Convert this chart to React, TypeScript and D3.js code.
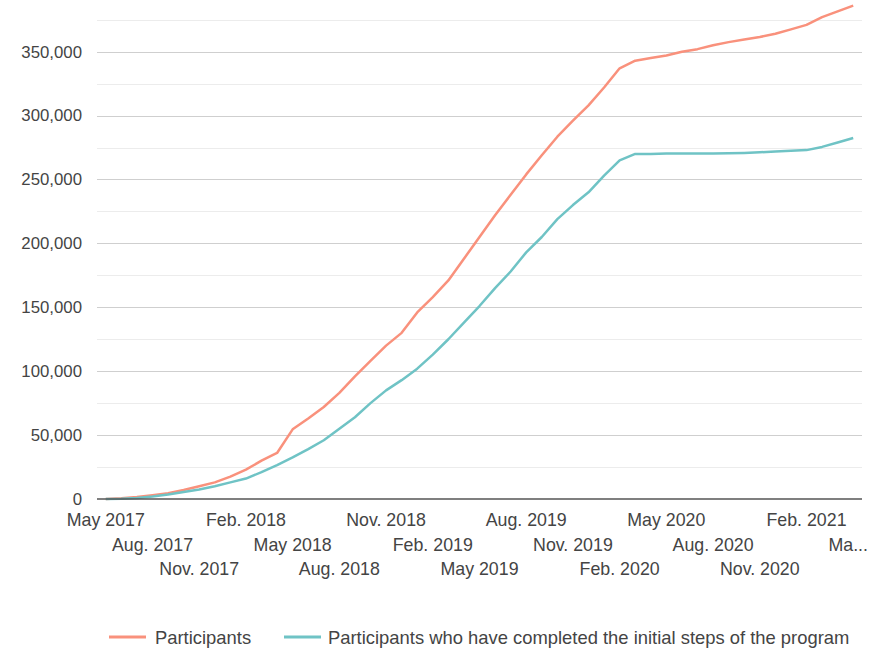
import React, { useEffect, useRef } from "react";
import * as d3 from "d3";

// months May 2017 .. May 2021
const months = [
  "May 2017", "Jun. 2017", "Jul. 2017", "Aug. 2017", "Sep. 2017", "Oct. 2017", "Nov. 2017", "Dec. 2017",
  "Jan. 2018", "Feb. 2018", "Mar. 2018", "Apr. 2018", "May 2018", "Jun. 2018", "Jul. 2018", "Aug. 2018",
  "Sep. 2018", "Oct. 2018", "Nov. 2018", "Dec. 2018", "Jan. 2019", "Feb. 2019", "Mar. 2019", "Apr. 2019",
  "May 2019", "Jun. 2019", "Jul. 2019", "Aug. 2019", "Sep. 2019", "Oct. 2019", "Nov. 2019", "Dec. 2019",
  "Jan. 2020", "Feb. 2020", "Mar. 2020", "Apr. 2020", "May 2020", "Jun. 2020", "Jul. 2020", "Aug. 2020",
  "Sep. 2020", "Oct. 2020", "Nov. 2020", "Dec. 2020", "Jan. 2021", "Feb. 2021", "Mar. 2021", "Apr. 2021",
  "May 2021",
];

const participants = [
  0, 500, 1500, 3000, 4500, 7000, 10000, 13000,
  17500, 23000, 30000, 36000, 54500, 63000, 72000, 83000,
  96000, 108000, 120000, 130000, 146000, 158000, 171000, 188000,
  205000, 222000, 238000, 254000, 269000, 283500, 296000, 308000,
  322000, 337000, 343000, 345000, 347000, 350000, 352000, 355000,
  357500, 359500, 361500, 364000, 367500, 371000, 377000, 381500,
  386000,
];

const completed = [
  0, 200, 800, 2000, 3500, 5500, 7500, 10000,
  13000, 16000, 21000, 26500, 32500, 39000, 46000, 55000,
  64000, 75000, 85000, 93000, 102000, 113000, 125000, 138000,
  151000, 165000, 178000, 193000, 205000, 219000, 230000, 240000,
  253000, 265000, 270000, 270000, 270300, 270400, 270400, 270400,
  270500, 270800, 271300, 272000, 272500, 273000, 275500, 279000,
  282500,
];

const yTicks = [0, 50000, 100000, 150000, 200000, 250000, 300000, 350000];
const yMinorTicks = [25000, 75000, 125000, 175000, 225000, 275000, 325000, 375000];

const seriesNames = ["Participants", "Participants who have completed the initial steps of the program"];
const colors = ["#f9917c", "#6fc3c5"];

export default function App() {
  const ref = useRef<SVGSVGElement>(null);
  const width = 871;
  const height = 650;
  const margin = { top: 0, right: 9, bottom: 151, left: 97 };
  const font = "'Liberation Sans', Arial, sans-serif";

  useEffect(() => {
    const svg = d3.select(ref.current);
    svg.selectAll("*").remove();

    const x = d3
      .scalePoint()
      .domain(months)
      .range([margin.left + 1, width - margin.right - 1])
      .padding(0.5);

    const y = d3
      .scaleLinear()
      .domain([0, 390000])
      .range([height - margin.bottom, height - margin.bottom - (390000 * 63.9) / 50000]);

    // gridlines
    svg
      .append("g")
      .selectAll("line")
      .data(yMinorTicks)
      .join("line")
      .attr("x1", margin.left)
      .attr("x2", width - margin.right)
      .attr("y1", (d) => Math.round(y(d)) + 0.5)
      .attr("y2", (d) => Math.round(y(d)) + 0.5)
      .attr("stroke", "#ececec")
      .attr("stroke-width", 1);

    svg
      .append("g")
      .selectAll("line")
      .data(yTicks.slice(1))
      .join("line")
      .attr("x1", margin.left)
      .attr("x2", width - margin.right)
      .attr("y1", (d) => Math.round(y(d)) + 0.5)
      .attr("y2", (d) => Math.round(y(d)) + 0.5)
      .attr("stroke", "#cfcfcf")
      .attr("stroke-width", 1);

    // y axis labels
    const yAxis = d3
      .axisLeft(y)
      .tickValues(yTicks)
      .tickSize(0)
      .tickPadding(15)
      .tickFormat((d) => d3.format(",")(d as number));

    svg
      .append("g")
      .attr("transform", `translate(${margin.left},0)`)
      .call(yAxis)
      .call((g) => g.select(".domain").remove())
      .selectAll("text")
      .attr("fill", "#444")
      .style("font-family", font)
      .style("font-size", "16.8px");

    // x axis labels, staggered in three rows; last one is clipped to "Ma..."
    const last = months.length - 1;
    const labelIdx = months.map((_, i) => i).filter((i) => i % 3 === 0);
    svg
      .append("g")
      .selectAll("text")
      .data(labelIdx)
      .join("text")
      .attr("x", (i) => (i === last ? width - 3 : (x(months[i]) as number)))
      .attr("y", (i) => height - margin.bottom + 27 + ((i / 3) % 3) * 24.5)
      .attr("text-anchor", (i) => (i === last ? "end" : "middle"))
      .attr("fill", "#444")
      .style("font-family", font)
      .style("font-size", "17.8px")
      .text((i) => (i === last ? "Ma..." : months[i]));

    // lines
    const line = d3
      .line<number>()
      .x((_, i) => x(months[i]) as number)
      .y((d) => y(d));

    [participants, completed].forEach((s, k) => {
      svg
        .append("path")
        .datum(s)
        .attr("fill", "none")
        .attr("stroke", colors[k])
        .attr("stroke-width", 2.5)
        .attr("stroke-linejoin", "round")
        .attr("d", line);
    });

    // baseline
    svg
      .append("line")
      .attr("x1", margin.left)
      .attr("x2", width - margin.right)
      .attr("y1", y(0))
      .attr("y2", y(0))
      .attr("stroke", "#555")
      .attr("stroke-width", 1.5);

    // legend
    const legendPos = [
      { lx: 109, tx: 155 },
      { lx: 284, tx: 328 },
    ];
    const legend = svg.append("g");
    seriesNames.forEach((name, k) => {
      legend
        .append("line")
        .attr("x1", legendPos[k].lx)
        .attr("x2", legendPos[k].lx + 37)
        .attr("y1", 637)
        .attr("y2", 637)
        .attr("stroke", colors[k])
        .attr("stroke-width", 3);
      legend
        .append("text")
        .attr("x", legendPos[k].tx)
        .attr("y", 643.5)
        .attr("fill", "#444")
        .style("font-family", font)
        .style("font-size", "18.4px")
        .text(name);
    });
  }, []);

  return (
    <svg
      ref={ref}
      width={width}
      height={height}
      style={{ position: "absolute", left: 0, top: 0, background: "#fff" }}
    />
  );
}
